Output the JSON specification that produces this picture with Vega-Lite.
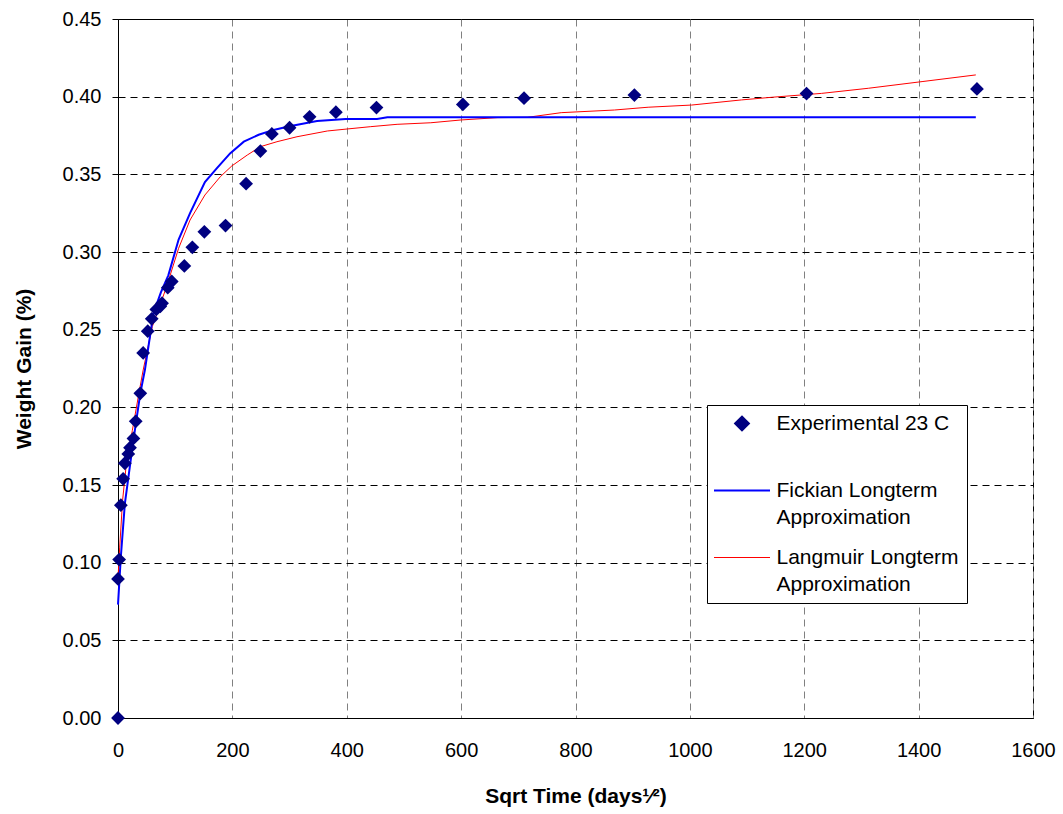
{
  "$schema": "https://vega.github.io/schema/vega-lite/v6.json",
  "width": 915,
  "height": 699,
  "autosize": {"type": "none"},
  "padding": {"left": 118, "top": 19, "right": 30, "bottom": 96},
  "background": "white",
  "config": {
    "font": "Liberation Sans",
    "view": {"stroke": "black", "strokeWidth": 1},
    "axis": {
      "domainColor": "black",
      "domainWidth": 1,
      "labelColor": "black",
      "labelFont": "Liberation Sans",
      "labelFontSize": 20,
      "labelFlush": false,
      "labelOverlap": false,
      "titleColor": "black",
      "titleFont": "Liberation Sans",
      "titleFontSize": 21,
      "titleFontWeight": "bold",
      "gridWidth": 1
    }
  },
  "datasets": {
    "experimental": [
      {"t": 0, "gain": 0.0, "series": "Experimental 23 C"},
      {"t": 0, "gain": 0.0895, "series": "Experimental 23 C"},
      {"t": 2, "gain": 0.102, "series": "Experimental 23 C"},
      {"t": 5, "gain": 0.137, "series": "Experimental 23 C"},
      {"t": 9, "gain": 0.154, "series": "Experimental 23 C"},
      {"t": 12, "gain": 0.164, "series": "Experimental 23 C"},
      {"t": 18, "gain": 0.170, "series": "Experimental 23 C"},
      {"t": 21, "gain": 0.174, "series": "Experimental 23 C"},
      {"t": 27, "gain": 0.180, "series": "Experimental 23 C"},
      {"t": 31, "gain": 0.191, "series": "Experimental 23 C"},
      {"t": 39, "gain": 0.209, "series": "Experimental 23 C"},
      {"t": 44, "gain": 0.235, "series": "Experimental 23 C"},
      {"t": 52, "gain": 0.249, "series": "Experimental 23 C"},
      {"t": 59, "gain": 0.257, "series": "Experimental 23 C"},
      {"t": 67, "gain": 0.263, "series": "Experimental 23 C"},
      {"t": 74, "gain": 0.265, "series": "Experimental 23 C"},
      {"t": 77, "gain": 0.267, "series": "Experimental 23 C"},
      {"t": 87, "gain": 0.277, "series": "Experimental 23 C"},
      {"t": 94, "gain": 0.281, "series": "Experimental 23 C"},
      {"t": 116, "gain": 0.291, "series": "Experimental 23 C"},
      {"t": 130, "gain": 0.303, "series": "Experimental 23 C"},
      {"t": 151, "gain": 0.313, "series": "Experimental 23 C"},
      {"t": 188, "gain": 0.317, "series": "Experimental 23 C"},
      {"t": 224, "gain": 0.344, "series": "Experimental 23 C"},
      {"t": 249, "gain": 0.365, "series": "Experimental 23 C"},
      {"t": 269, "gain": 0.376, "series": "Experimental 23 C"},
      {"t": 300, "gain": 0.380, "series": "Experimental 23 C"},
      {"t": 335, "gain": 0.387, "series": "Experimental 23 C"},
      {"t": 381, "gain": 0.390, "series": "Experimental 23 C"},
      {"t": 452, "gain": 0.393, "series": "Experimental 23 C"},
      {"t": 603, "gain": 0.395, "series": "Experimental 23 C"},
      {"t": 710, "gain": 0.399, "series": "Experimental 23 C"},
      {"t": 903, "gain": 0.401, "series": "Experimental 23 C"},
      {"t": 1204, "gain": 0.402, "series": "Experimental 23 C"},
      {"t": 1502, "gain": 0.405, "series": "Experimental 23 C"}
    ],
    "fickian": [
      {"t": 0, "gain": 0.073, "series": "Fickian Longterm Approximation"},
      {"t": 5, "gain": 0.104, "series": "Fickian Longterm Approximation"},
      {"t": 12, "gain": 0.138, "series": "Fickian Longterm Approximation"},
      {"t": 27, "gain": 0.179, "series": "Fickian Longterm Approximation"},
      {"t": 39, "gain": 0.209, "series": "Fickian Longterm Approximation"},
      {"t": 47, "gain": 0.224, "series": "Fickian Longterm Approximation"},
      {"t": 62, "gain": 0.2605, "series": "Fickian Longterm Approximation"},
      {"t": 75, "gain": 0.274, "series": "Fickian Longterm Approximation"},
      {"t": 88, "gain": 0.285, "series": "Fickian Longterm Approximation"},
      {"t": 106, "gain": 0.308, "series": "Fickian Longterm Approximation"},
      {"t": 126, "gain": 0.325, "series": "Fickian Longterm Approximation"},
      {"t": 152, "gain": 0.345, "series": "Fickian Longterm Approximation"},
      {"t": 173, "gain": 0.354, "series": "Fickian Longterm Approximation"},
      {"t": 196, "gain": 0.3635, "series": "Fickian Longterm Approximation"},
      {"t": 220, "gain": 0.371, "series": "Fickian Longterm Approximation"},
      {"t": 246, "gain": 0.3755, "series": "Fickian Longterm Approximation"},
      {"t": 272, "gain": 0.3786, "series": "Fickian Longterm Approximation"},
      {"t": 300, "gain": 0.381, "series": "Fickian Longterm Approximation"},
      {"t": 348, "gain": 0.3843, "series": "Fickian Longterm Approximation"},
      {"t": 398, "gain": 0.3856, "series": "Fickian Longterm Approximation"},
      {"t": 453, "gain": 0.3856, "series": "Fickian Longterm Approximation"},
      {"t": 471, "gain": 0.3867, "series": "Fickian Longterm Approximation"},
      {"t": 1500, "gain": 0.3867, "series": "Fickian Longterm Approximation"}
    ],
    "langmuir": [
      {"t": 0, "gain": 0.09, "series": "Langmuir Longterm Approximation"},
      {"t": 3, "gain": 0.11, "series": "Langmuir Longterm Approximation"},
      {"t": 8, "gain": 0.14, "series": "Langmuir Longterm Approximation"},
      {"t": 15, "gain": 0.165, "series": "Langmuir Longterm Approximation"},
      {"t": 25, "gain": 0.185, "series": "Langmuir Longterm Approximation"},
      {"t": 38, "gain": 0.212, "series": "Langmuir Longterm Approximation"},
      {"t": 44, "gain": 0.224, "series": "Langmuir Longterm Approximation"},
      {"t": 60, "gain": 0.252, "series": "Langmuir Longterm Approximation"},
      {"t": 85, "gain": 0.2777, "series": "Langmuir Longterm Approximation"},
      {"t": 106, "gain": 0.3024, "series": "Langmuir Longterm Approximation"},
      {"t": 126, "gain": 0.3206, "series": "Langmuir Longterm Approximation"},
      {"t": 152, "gain": 0.3367, "series": "Langmuir Longterm Approximation"},
      {"t": 179, "gain": 0.3485, "series": "Langmuir Longterm Approximation"},
      {"t": 199, "gain": 0.3554, "series": "Langmuir Longterm Approximation"},
      {"t": 226, "gain": 0.3624, "series": "Langmuir Longterm Approximation"},
      {"t": 249, "gain": 0.3678, "series": "Langmuir Longterm Approximation"},
      {"t": 278, "gain": 0.371, "series": "Langmuir Longterm Approximation"},
      {"t": 313, "gain": 0.3742, "series": "Langmuir Longterm Approximation"},
      {"t": 366, "gain": 0.3779, "series": "Langmuir Longterm Approximation"},
      {"t": 401, "gain": 0.3792, "series": "Langmuir Longterm Approximation"},
      {"t": 442, "gain": 0.3807, "series": "Langmuir Longterm Approximation"},
      {"t": 488, "gain": 0.3822, "series": "Langmuir Longterm Approximation"},
      {"t": 547, "gain": 0.3832, "series": "Langmuir Longterm Approximation"},
      {"t": 600, "gain": 0.385, "series": "Langmuir Longterm Approximation"},
      {"t": 664, "gain": 0.3865, "series": "Langmuir Longterm Approximation"},
      {"t": 716, "gain": 0.3867, "series": "Langmuir Longterm Approximation"},
      {"t": 775, "gain": 0.3897, "series": "Langmuir Longterm Approximation"},
      {"t": 868, "gain": 0.3914, "series": "Langmuir Longterm Approximation"},
      {"t": 927, "gain": 0.3932, "series": "Langmuir Longterm Approximation"},
      {"t": 1003, "gain": 0.3946, "series": "Langmuir Longterm Approximation"},
      {"t": 1090, "gain": 0.3979, "series": "Langmuir Longterm Approximation"},
      {"t": 1143, "gain": 0.3996, "series": "Langmuir Longterm Approximation"},
      {"t": 1230, "gain": 0.4021, "series": "Langmuir Longterm Approximation"},
      {"t": 1312, "gain": 0.4054, "series": "Langmuir Longterm Approximation"},
      {"t": 1406, "gain": 0.4097, "series": "Langmuir Longterm Approximation"},
      {"t": 1500, "gain": 0.414, "series": "Langmuir Longterm Approximation"}
    ]
  },
  "encoding": {
    "x": {
      "field": "t",
      "type": "quantitative",
      "scale": {"domain": [0, 1600], "nice": false, "zero": false},
      "axis": {
        "title": "Sqrt Time (days¹⁄²)",
        "values": [0, 200, 400, 600, 800, 1000, 1200, 1400, 1600],
        "format": "d",
        "grid": true,
        "gridColor": "#808080",
        "gridDash": [7, 5],
        "ticks": false,
        "tickSize": 0,
        "labelPadding": 22,
        "titlePadding": 25
      }
    },
    "y": {
      "field": "gain",
      "type": "quantitative",
      "scale": {"domain": [0, 0.45], "nice": false, "zero": false},
      "axis": {
        "title": "Weight Gain (%)",
        "values": [0, 0.05, 0.1, 0.15, 0.2, 0.25, 0.3, 0.35, 0.4, 0.45],
        "format": ".2f",
        "grid": true,
        "gridColor": "black",
        "gridDash": [7, 5],
        "ticks": true,
        "tickColor": "black",
        "tickSize": 6,
        "labelPadding": 11,
        "titlePadding": 28
      }
    },
    "color": {
      "field": "series",
      "type": "nominal",
      "scale": {
        "domain": ["Experimental 23 C", "Fickian Longterm Approximation", "Langmuir Longterm Approximation"],
        "range": ["#000080", "#0000ff", "#ff0000"]
      },
      "legend": {
        "title": null,
        "orient": "none",
        "legendX": 589,
        "legendY": 386,
        "direction": "vertical",
        "strokeColor": "black",
        "fillColor": "white",
        "padding": 8,
        "symbolType": "stroke",
        "symbolSize": 3136,
        "symbolOffset": 16.5,
        "labelFont": "Liberation Sans",
        "labelFontSize": 21,
        "labelColor": "black",
        "labelOffset": 24,
        "labelLimit": 260,
        "rowPadding": 18,
        "labelExpr": "datum.label == 'Experimental 23 C' ? [datum.label, ''] : [replace(datum.label, ' Approximation', ''), 'Approximation']",
        "encode": {
          "symbols": {
            "update": {
              "shape": {"signal": "datum.value == 'Experimental 23 C' ? 'diamond' : 'stroke'"},
              "size": {"signal": "datum.value == 'Experimental 23 C' ? 190 : 3136"},
              "fill": {"signal": "datum.value == 'Experimental 23 C' ? '#000080' : 'transparent'"},
              "stroke": {"signal": "datum.value == 'Experimental 23 C' ? 'transparent' : (datum.value == 'Fickian Longterm Approximation' ? '#0000ff' : '#ff0000')"},
              "strokeWidth": {"signal": "datum.value == 'Langmuir Longterm Approximation' ? 1 : 2"},
              "opacity": {"value": 1}
            }
          },
          "labels": {
            "update": {"lineHeight": {"value": 27}}
          }
        }
      }
    }
  },
  "layer": [
    {
      "data": {"name": "langmuir"},
      "mark": {"type": "line", "strokeWidth": 1, "interpolate": "linear"}
    },
    {
      "data": {"name": "fickian"},
      "mark": {"type": "line", "strokeWidth": 2, "interpolate": "linear"}
    },
    {
      "data": {"name": "experimental"},
      "mark": {"type": "point", "shape": "diamond", "filled": true, "size": 190, "opacity": 1}
    }
  ]
}
